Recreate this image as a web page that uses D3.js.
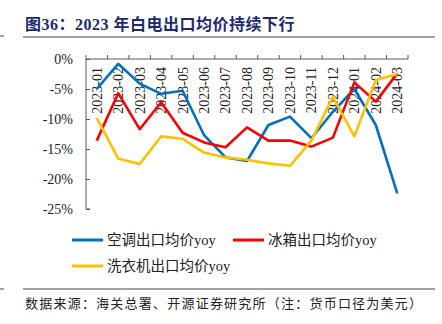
<!DOCTYPE html>
<html>
<head>
<meta charset="utf-8">
<script src="https://cdn.jsdelivr.net/npm/d3@7"></script>
<style>
  body { margin: 0; background: #fff; }
  svg { display: block; }
</style>
</head>
<body>
<div class="svg-container"></div>
<script>
// monthly export average price, yoy %
const months = ["2023-01", "2023-02", "2023-03", "2023-04", "2023-05", "2023-06", "2023-07",
  "2023-08", "2023-09", "2023-10", "2023-11", "2023-12", "2024-01", "2024-02", "2024-03"];
const airCon = [-5.0, -0.8, -4.1, -5.8, -5.3, -12.7, -16.4, -17.0, -11.0, -9.6, -13.2, -8.8, -5.0, -11.0, -22.4];
const fridge = [-13.6, -5.7, -11.7, -7.2, -12.3, -13.9, -14.7, -11.4, -13.6, -13.6, -14.6, -13.1, -3.9, -7.1, -2.4];
const washer = [-9.8, -16.6, -17.5, -12.9, -13.3, -15.6, -16.4, -16.8, -17.4, -17.8, -13.6, -6.3, -12.9, -3.5, -2.5];
const yTicks = [0, -5, -10, -15, -20, -25];

const series = [
  { name: "空调出口均价yoy", values: airCon, color: "#0070C0" },
  { name: "冰箱出口均价yoy", values: fridge, color: "#FF0000" },
  { name: "洗衣机出口均价yoy", values: washer, color: "#FFC000" },
];

const W = 442, H = 324;
const serif = "'Liberation Serif', 'Times New Roman', serif";
// latin glyphs in serif, CJK falls through to Noto
const mixed = "'Liberation Serif', 'Noto Sans CJK SC', sans-serif";
const cjk = "'Noto Sans CJK SC', sans-serif";
const axisColor = "#595959";

const svg = d3.select("div.svg-container")
  .append("svg")
  .attr("width", W)
  .attr("height", H);

// title + rules
svg.append("text")
  .attr("x", 25).attr("y", 30)
  .attr("font-family", mixed)
  .attr("font-weight", "bold")
  .attr("font-size", 16)
  .attr("letter-spacing", 0.5)
  .attr("fill", "#1c2a6e")
  .text("图36：2023 年白电出口均价持续下行");

svg.append("line").attr("x1", 23).attr("x2", 435).attr("y1", 37).attr("y2", 37)
  .attr("stroke", "#444").attr("stroke-width", 1);
svg.append("line").attr("x1", 0).attr("x2", 4).attr("y1", 36).attr("y2", 36)
  .attr("stroke", "#444").attr("stroke-width", 1);

const x = d3.scaleBand(months, [86, 408]);
const y = d3.scaleLinear([-25, 0], [209, 59]);

// y axis, ticks pointing inward
svg.append("g")
  .attr("transform", "translate(86,0)")
  .call(d3.axisRight(y).tickValues(yTicks).tickSize(4).tickFormat(""))
  .call(g => g.select(".domain").attr("d", `M4,${y(-25)}H0V${y(0)}`))
  .call(g => g.selectAll("line, path").attr("stroke", axisColor));

svg.append("g")
  .selectAll("text")
  .data(yTicks)
  .join("text")
  .attr("x", 73)
  .attr("y", d => y(d))
  .attr("dy", "0.35em")
  .attr("text-anchor", "end")
  .attr("font-family", serif)
  .attr("font-size", 14)
  .attr("fill", "#222")
  .text(d => d + "%");

// x axis on the zero line, ticks between the months
const xAxis = svg.append("g").attr("transform", `translate(0,${y(0)})`);
xAxis.append("path")
  .attr("d", `M86,0H408`)
  .attr("stroke", axisColor).attr("fill", "none");
xAxis.selectAll("line")
  .data(d3.range(months.length + 1))
  .join("line")
  .attr("x1", i => 86 + i * x.step())
  .attr("x2", i => 86 + i * x.step())
  .attr("y1", 0).attr("y2", -4)
  .attr("stroke", axisColor);

svg.append("g")
  .selectAll("text")
  .data(months)
  .join("text")
  .attr("transform", d => `translate(${x(d) + x.bandwidth() / 2},${y(0) + 8}) rotate(-90)`)
  .attr("text-anchor", "end")
  .attr("dy", "0.35em")
  .attr("font-family", serif)
  .attr("font-size", 14)
  .attr("fill", "#222")
  .text(d => d);

const line = d3.line()
  .x((d, i) => x(months[i]) + x.bandwidth() / 2)
  .y(d => y(d));

svg.append("g")
  .attr("fill", "none")
  .attr("stroke-width", 2.6)
  .attr("stroke-linejoin", "round")
  .selectAll("path")
  .data(series)
  .join("path")
  .attr("stroke", d => d.color)
  .attr("d", d => line(d.values));

// legend
const legendPos = [[72, 240], [233, 240], [72, 266]];
const legend = svg.append("g")
  .selectAll("g")
  .data(series)
  .join("g")
  .attr("transform", (d, i) => `translate(${legendPos[i][0]},${legendPos[i][1]})`);
legend.append("line")
  .attr("x1", 0).attr("x2", 31)
  .attr("stroke", d => d.color)
  .attr("stroke-width", 3);
legend.append("text")
  .attr("x", 35)
  .attr("dy", "0.35em")
  .attr("font-family", mixed)
  .attr("font-size", 14.5)
  .attr("fill", "#222")
  .text(d => d.name);

// source note
svg.append("line").attr("x1", 23).attr("x2", 435).attr("y1", 289).attr("y2", 289)
  .attr("stroke", "#444").attr("stroke-width", 1);
svg.append("line").attr("x1", 0).attr("x2", 4).attr("y1", 289).attr("y2", 289)
  .attr("stroke", "#444").attr("stroke-width", 1);
svg.append("text")
  .attr("x", 25).attr("y", 308)
  .attr("font-family", cjk)
  .attr("font-size", 13)
  .attr("textLength", 397)
  .attr("fill", "#222")
  .text("数据来源：海关总署、开源证券研究所（注：货币口径为美元）");
</script>
</body>
</html>
